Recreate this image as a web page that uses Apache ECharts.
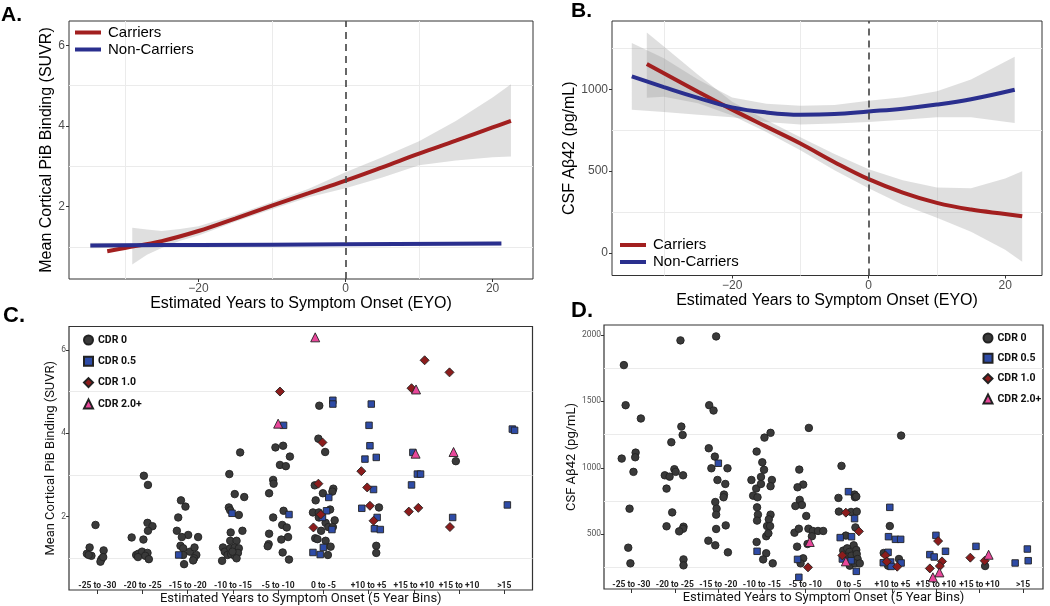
<!DOCTYPE html>
<html><head><meta charset="utf-8">
<script src="https://cdn.jsdelivr.net/npm/echarts@6/dist/echarts.min.js"></script>
<style>html,body{margin:0;padding:0;background:#fff}#c{width:1050px;height:606px}</style>
</head><body><div id="c"></div>
<script>
// ---------- Panel A: PiB vs EYO ----------
const aCarriers = [[-32.4,0.89],[-30,0.97],[-25,1.14],[-20,1.39],[-15,1.70],[-10,2.02],[-5,2.33],[0,2.64],[5,2.97],[10,3.31],[15,3.63],[20,3.96],[22.5,4.12]];
const aCarriersBand = [[-29,0.56,1.47],[-27,0.80,1.43],[-25,0.97,1.39],[-22.5,1.15,1.44],[-20,1.28,1.51],[-15,1.62,1.79],[-10,1.93,2.11],[-5,2.23,2.44],[0,2.45,2.85],[5,2.72,3.22],[10,3.02,3.62],[15,3.14,4.12],[20,3.22,4.70],[22.5,3.24,5.03]];
const aNonCarriers = [[-34.7,1.03],[-20,1.045],[0,1.06],[21.2,1.08]];
const aNonBand = [[-34.7,0.96,1.10],[-20,1.01,1.08],[0,1.04,1.09],[10,1.04,1.11],[21.2,1.03,1.13]];
// ---------- Panel B: CSF Ab42 vs EYO ----------
const bCarriers = [[-32.5,1155],[-25,985],[-20,876],[-15,772],[-10,669],[-5,555],[0,451],[5,369],[10,306],[15,265],[20,238],[22.5,224]];
const bCarriersBand = [[-32.5,948,1348],[-30,955,1262],[-25,915,1090],[-20,840,925],[-15,740,812],[-10,628,708],[-5,505,605],[0,395,512],[5,295,445],[10,215,400],[15,130,395],[20,20,455],[22.5,-54,499]];
const bNonCarriers = [[-34.7,1079],[-30,1014],[-25,948],[-20,890],[-15,859],[-10,845],[-5,849],[0,865],[5,882],[10,907],[15,940],[21.4,998]];
const bNonBand = [[-34.7,876,1284],[-30,862,1190],[-25,845,1060],[-20,830,950],[-15,800,912],[-10,785,900],[-5,792,905],[0,800,930],[5,815,952],[10,830,988],[15,830,1060],[21.4,795,1200]];
const eyoLabels = [-20,0,20];
const eyoGrid = [-30,-10,10];
const aYLabels = [2,4,6];
const aYGrid = [1,3,5];
const bYLabels = [0,500,1000];
const bYGrid = [250,750,1250];

// ---------- Panels C & D: 5-year bins ----------
const bins = ["-25 to -30","-20 to -25","-15 to -20","-10 to -15","-5 to -10","0 to -5","+10 to +5","+15 to +10","+15 to +10",">15"];
const cYLabels = [2,4,6];
const cYGrid = [1,3,5];
const dYLabels = [500,1000,1500,2000];
const dYGrid = [250,750,1250,1750];

const cCdr0 = [[0.96,1.80],[0.83,1.26],[0.77,1.11],[0.87,1.06],[0.81,1.08],[1.14,1.19],[1.09,0.98],[1.07,0.92],[1.13,1.03],
 [2.03,2.98],[2.12,2.76],[2.11,1.85],[2.22,1.77],[2.12,1.66],[1.76,1.50],[2.02,1.45],[1.86,1.08],[1.91,1.11],[1.99,1.16],[2.11,1.13],[2.06,1.06],[2.14,0.98],[1.90,1.03],
 [2.85,2.39],[2.95,2.24],[2.79,1.98],[2.76,1.66],[3.01,1.56],[2.87,1.51],[3.23,1.51],[2.84,1.30],[2.90,1.24],[3.05,1.16],[3.15,1.26],[2.90,1.08],[2.92,0.86],[3.19,1.08],[3.14,1.00],[3.12,0.95],
 [4.16,3.54],[3.92,3.02],[4.04,2.54],[4.25,2.47],[3.91,2.22],[3.94,2.15],[4.13,2.04],[4.21,1.66],[3.95,1.62],[3.78,1.26],[3.82,1.16],[3.94,1.42],[4.08,1.42],[3.94,1.24],[4.04,1.26],[4.13,1.24],[3.88,1.08],[3.96,1.10],[4.04,1.06],[4.11,1.13],[3.99,1.16],[3.76,0.94],[4.08,1.00],
 [4.94,3.66],[5.11,3.70],[5.26,3.44],[5.04,3.24],[5.17,3.21],[4.89,2.88],[4.90,2.79],[4.80,2.56],[5.12,2.14],[4.89,1.98],[5.09,1.80],[5.19,1.74],[4.80,1.59],[5.22,1.51],[5.07,1.45],[4.79,1.34],[4.77,1.29],[5.10,1.14],[5.24,0.97],
 [5.91,4.66],[5.89,3.87],[6.04,3.55],[5.81,2.75],[5.99,2.56],[6.22,2.67],[6.20,2.60],[5.83,2.39],[6.15,2.17],[5.77,2.10],[5.90,2.10],[5.90,1.98],[6.25,1.91],[6.05,1.85],[6.11,1.75],[6.21,1.75],[5.95,1.66],[5.82,1.48],[5.87,1.46],[6.05,1.42],[6.16,1.28],[6.10,1.08],
 [7.23,2.22],[7.17,1.30],[7.17,1.13],[8.93,3.33]];
const cCdr05 = [[2.80,1.08],[3.98,2.08],[5.12,4.19],[5.24,2.05],[6.21,4.79],[6.21,4.70],[6.12,2.46],[6.07,2.14],[5.98,1.98],[6.19,1.69],[6.00,1.26],[5.77,1.14],[5.93,1.09],
 [7.06,4.70],[7.01,4.19],[7.03,3.70],[6.92,3.38],[7.17,3.42],[7.11,2.65],[6.85,2.20],[7.19,1.98],[7.13,1.71],[7.26,1.69],
 [7.98,3.54],[8.08,3.02],[8.15,3.02],[7.95,2.76],[8.86,1.98],[10.18,4.10],[10.23,4.07],[10.07,2.28]];
const cCdr1 = [[5.04,5.00],[5.98,3.78],[5.89,2.79],[5.94,2.05],[5.78,1.74],[6.84,3.09],[6.97,2.70],[7.03,2.26],[7.11,1.90],[8.24,5.75],[7.95,5.08],[8.10,2.21],[7.89,2.12],[8.79,5.46],[8.80,1.75]];
const cCdr2 = [[5.00,4.23],[5.82,6.30],[8.05,5.05],[8.04,3.51],[8.88,3.55]];

const dCdr0 = [[0.83,1773],[0.87,1471],[1.22,1371],[1.10,1114],[1.09,1079],[0.78,1069],[1.05,969],[0.96,692],[0.93,398],[0.98,280],
 [2.13,1959],[2.15,1310],[2.18,1247],[1.92,1192],[1.99,989],[2.02,969],[1.77,943],[1.88,933],[2.19,943],[1.81,843],[1.94,664],[1.81,559],[2.20,556],[2.19,541],[2.10,521],[2.20,310],[2.20,265],
 [2.95,1989],[2.79,1471],[2.89,1431],[2.78,1147],[2.92,1084],[2.84,996],[3.21,996],[2.98,908],[3.16,878],[3.13,798],[3.12,778],[2.93,742],[2.96,692],[2.95,647],[3.17,566],[2.95,539],[2.77,451],[2.93,416],[3.22,363],
 [3.88,1122],[4.20,1263],[4.06,1227],[4.01,1041],[4.05,985],[3.76,908],[3.98,931],[4.23,908],[3.87,843],[3.98,878],[3.80,790],[3.90,778],[4.20,861],[3.89,702],[3.91,647],[3.89,602],[4.20,647],[4.16,612],[4.12,561],[4.19,561],[4.10,484],[4.15,506],[3.88,441],[4.10,356],[4.03,310],[4.25,280],
 [5.08,1300],[4.86,986],[4.95,873],[4.82,853],[4.87,758],[4.92,720],[4.77,712],[5.02,637],[4.75,511],[4.85,541],[5.07,541],[5.17,524],[5.29,524],[5.41,524],[5.15,484],[5.05,426],[4.81,406],[4.95,318],[4.89,280],
 [5.83,1014],[5.76,773],[6.13,798],[6.14,778],[6.17,783],[5.77,670],[6.05,667],[6.18,670],[6.15,551],[5.93,489],[6.11,416],[5.87,376],[5.96,393],[6.01,366],[6.17,381],[5.96,330],[6.06,338],[6.18,350],[6.20,313],[6.02,263],[6.14,280],[6.25,280],
 [7.20,1242],[6.94,561],[6.80,358],[6.90,263],[7.15,313],[9.13,260]];
const dCdr05 = [[3.00,1034],[3.89,371],[4.82,310],[4.85,175],[5.99,820],[6.13,617],[5.80,474],[6.06,481],[5.85,313],[6.05,300],[6.17,220],
 [6.94,702],[6.91,481],[7.07,461],[7.19,461],[6.90,363],[6.79,285],[6.96,290],[6.97,257],[7.20,283],
 [8.00,491],[8.22,371],[7.86,346],[7.96,328],[8.92,408],[10.10,388],[10.12,300],[9.82,283]];
const dCdr1 = [[5.06,250],[5.93,662],[6.23,521],[5.85,340],[6.84,340],[6.87,293],[7.11,255],[8.05,448],[8.14,295],[8.09,260],[7.86,242],[8.79,323],[9.12,300]];
const dCdr2 = [[5.10,441],[5.93,295],[8.08,212],[7.93,175],[9.21,345]];

// ---------- styling ----------
const SANS = "'Liberation Sans', Arial, sans-serif";
const NARROW = "Roboto, 'Liberation Sans', sans-serif";
const RED = '#A21F1F', BLUE = '#2A2F8E';
const GRIDC = '#EBEBEB';
const minus = v => String(v).replace('-', '\u2212');
const plain = v => String(v);

function bandSeries(band, xi, yi) {
  return {
    type: 'custom', xAxisIndex: xi, yAxisIndex: yi, silent: true, z: 1,
    data: band, encode: {x: 0, y: [1, 2]},
    renderItem: function (params, api) {
      if (params.dataIndex !== 0) return null;
      const up = band.map(r => api.coord([r[0], r[2]]));
      const lo = band.map(r => api.coord([r[0], r[1]])).reverse();
      return {type: 'polygon', shape: {points: up.concat(lo)},
              style: {fill: 'rgba(150,150,150,0.3)'}};
    }
  };
}
function lineSeries(name, data, color, xi, yi, withVLine) {
  const s = {type: 'line', name, data, xAxisIndex: xi, yAxisIndex: yi, smooth: 0.4,
    symbol: 'none', silent: true, z: 3, lineStyle: {color, width: 4}, itemStyle: {color}};
  if (withVLine) s.markLine = {silent: true, symbol: ['none', 'none'], label: {show: false},
    lineStyle: {color: '#4d4d4d', type: [7, 5], width: 1.7}, data: [{xAxis: 0}]};
  return s;
}
const SYM = {
  'CDR 0': {symbol: 'circle', size: 7.5, color: '#3a3a3a'},
  'CDR 0.5': {symbol: 'rect', size: 6.5, color: '#2E4BA6'},
  'CDR 1.0': {symbol: 'diamond', size: 9, color: '#8C1C1C'},
  'CDR 2.0+': {symbol: 'triangle', size: 9, color: '#E8479A'}
};
function scat(name, data, xi, yi) {
  const s = SYM[name];
  return {type: 'scatter', name, data, xAxisIndex: xi, yAxisIndex: yi, symbol: s.symbol,
    symbolSize: s.size, silent: true, z: 3,
    itemStyle: {color: s.color, borderColor: '#222', borderWidth: 0.9, opacity: 1}};
}

function valAxisMain(gi, min, max, labels, opts) {
  return Object.assign({
    type: 'value', gridIndex: gi, min, max,
    axisLine: {show: false, onZero: false},
    axisTick: {show: true, length: 3, customValues: labels, lineStyle: {color: '#333'}},
    axisLabel: {customValues: labels, color: '#4d4d4d', fontSize: 12, margin: 4, fontFamily: SANS, formatter: plain,
                showMinLabel: true, showMaxLabel: true},
    splitLine: {show: false}
  }, opts);
}
function valAxisGrid(gi, min, max, lines) {
  return {type: 'value', gridIndex: gi, min, max,
    axisLine: {show: false, onZero: false}, axisLabel: {show: false},
    axisTick: {show: false, customValues: lines},
    splitLine: {show: true, lineStyle: {color: GRIDC, width: 1}}};
}
function binAxis(gi, min, max) {
  return {type: 'value', gridIndex: gi, min, max, axisLine: {show: false, onZero: false},
    axisTick: {show: true, length: 4, customValues: binIdx, lineStyle: {color: '#333'}},
    axisLabel: {customValues: binIdx, inside: true, margin: 0, fontSize: 8.5, fontWeight: 'bold', color: '#222', fontFamily: NARROW,
      showMinLabel: true, showMaxLabel: true, hideOverlap: false,
      formatter: v => bins[Math.round(v) - 1]},
    splitLine: {show: false},
    name: 'Estimated Years to Symptom Onset (5 Year Bins)', nameLocation: 'middle', nameGap: 2,
    nameTextStyle: {fontSize: 13, color: '#111', fontFamily: NARROW}};
}

const binIdx = bins.map((b, i) => i + 1);

const option = {
  animation: false,
  backgroundColor: '#fff',
  textStyle: {fontFamily: SANS},
  title: [
    {text: 'A.', left: 1, top: 5, padding: 0, textStyle: {fontSize: 21, fontWeight: 'bold', color: '#000', fontFamily: SANS}},
    {text: 'B.', left: 571, top: 1, padding: 0, textStyle: {fontSize: 21, fontWeight: 'bold', color: '#000', fontFamily: SANS}},
    {text: 'C.', left: 3, top: 305, padding: 0, textStyle: {fontSize: 22, fontWeight: 'bold', color: '#000', fontFamily: SANS}},
    {text: 'D.', left: 571, top: 300, padding: 0, textStyle: {fontSize: 22, fontWeight: 'bold', color: '#000', fontFamily: SANS}}
  ],
  grid: [
    {left: 69, top: 21, width: 464, height: 258, show: true, borderColor: '#333', borderWidth: 1, backgroundColor: 'transparent'},
    {left: 612, top: 21, width: 430, height: 254.5, show: true, borderColor: '#333', borderWidth: 1, backgroundColor: 'transparent'},
    {left: 69, top: 326.5, width: 463.5, height: 263.5, show: true, borderColor: '#333', borderWidth: 1.2, backgroundColor: 'transparent'},
    {left: 604, top: 325, width: 439, height: 264, show: true, borderColor: '#333', borderWidth: 1.2, backgroundColor: 'transparent'}
  ],
  legend: [
    {data: ['Carriers', 'Non-Carriers'], left: 75, top: 25, orient: 'vertical', padding: 0, itemGap: 2,
     icon: 'rect', itemWidth: 26, itemHeight: 4, selectedMode: false,
     textStyle: {fontSize: 15, lineHeight: 15, color: '#000', fontFamily: SANS, padding: [0, 0, 0, 2]}},
    {data: ['Carriers', 'Non-Carriers'], left: 620, top: 237.5, orient: 'vertical', padding: 0, itemGap: 2,
     icon: 'rect', itemWidth: 26, itemHeight: 4, selectedMode: false,
     textStyle: {fontSize: 15, lineHeight: 15, color: '#000', fontFamily: SANS, padding: [0, 0, 0, 2]}},
    {data: ['CDR 0', 'CDR 0.5', 'CDR 1.0', 'CDR 2.0+'], left: 83, top: 334, orient: 'vertical', padding: 0, itemGap: 9.3,
     itemWidth: 9, itemHeight: 9, selectedMode: false,
     textStyle: {fontSize: 10.5, lineHeight: 12, fontWeight: 'bold', color: '#111', fontFamily: NARROW}},
    {data: ['CDR 0', 'CDR 0.5', 'CDR 1.0', 'CDR 2.0+'], left: 982.5, top: 332, orient: 'vertical', padding: 0, itemGap: 8.3,
     itemWidth: 9, itemHeight: 9, selectedMode: false,
     textStyle: {fontSize: 10.5, lineHeight: 12, fontWeight: 'bold', color: '#111', fontFamily: NARROW}}
  ],
  xAxis: [
    valAxisMain(0, -37.6, 25.5, eyoLabels, {axisLabel: {customValues: eyoLabels, color: '#4d4d4d', fontSize: 12, margin: 4, formatter: minus, showMinLabel: true, showMaxLabel: true},
      name: 'Estimated Years to Symptom Onset (EYO)', nameLocation: 'middle', nameGap: 14,
      nameTextStyle: {fontSize: 16, color: '#000', fontFamily: SANS}}),
    valAxisGrid(0, -37.6, 25.5, eyoGrid),
    valAxisMain(1, -37.6, 25.4, eyoLabels, {axisLabel: {customValues: eyoLabels, color: '#4d4d4d', fontSize: 12, margin: 4, formatter: minus, showMinLabel: true, showMaxLabel: true},
      name: 'Estimated Years to Symptom Onset (EYO)', nameLocation: 'middle', nameGap: 14,
      nameTextStyle: {fontSize: 16, color: '#000', fontFamily: SANS}}),
    valAxisGrid(1, -37.6, 25.4, eyoGrid),
    binAxis(2, 0.374, 10.626),
    binAxis(3, 0.373, 10.46)
  ],
  yAxis: [
    valAxisMain(0, 0.2, 6.6, aYLabels, {name: 'Mean Cortical PiB Binding (SUVR)', nameLocation: 'middle', nameGap: 11,
      nameTextStyle: {fontSize: 16, color: '#000', fontFamily: SANS}}),
    valAxisGrid(0, 0.2, 6.6, aYGrid),
    valAxisMain(1, -138, 1418, bYLabels, {name: 'CSF A\u03b242 (pg/mL)', nameLocation: 'middle', nameGap: 34,
      nameTextStyle: {fontSize: 16, color: '#000', fontFamily: SANS}}),
    valAxisGrid(1, -138, 1418, bYGrid),
    valAxisMain(2, 0.24, 6.56, cYLabels, {axisLabel: {customValues: cYLabels, color: '#555', fontSize: 8.5, margin: 3, fontFamily: NARROW, formatter: plain, showMinLabel: true, showMaxLabel: true},
      name: 'Mean Cortical PiB Binding (SUVR)', nameLocation: 'middle', nameGap: 8,
      nameTextStyle: {fontSize: 13, color: '#111', fontFamily: NARROW}}),
    valAxisGrid(2, 0.24, 6.56, cYGrid),
    valAxisMain(3, 87, 2075, dYLabels, {axisLabel: {customValues: dYLabels, color: '#555', fontSize: 8.5, margin: 3, fontFamily: NARROW, formatter: plain, showMinLabel: true, showMaxLabel: true},
      name: 'CSF A\u03b242 (pg/mL)', nameLocation: 'middle', nameGap: 26,
      nameTextStyle: {fontSize: 13, color: '#111', fontFamily: NARROW}}),
    valAxisGrid(3, 87, 2075, dYGrid)
  ],
  series: [
    bandSeries(aCarriersBand, 0, 0),
    bandSeries(aNonBand, 0, 0),
    lineSeries('Carriers', aCarriers, RED, 0, 0, true),
    lineSeries('Non-Carriers', aNonCarriers, BLUE, 0, 0, false),
    bandSeries(bCarriersBand, 2, 2),
    bandSeries(bNonBand, 2, 2),
    lineSeries('Carriers', bCarriers, RED, 2, 2, true),
    lineSeries('Non-Carriers', bNonCarriers, BLUE, 2, 2, false),
    scat('CDR 0', cCdr0, 4, 4),
    scat('CDR 0.5', cCdr05, 4, 4),
    scat('CDR 1.0', cCdr1, 4, 4),
    scat('CDR 2.0+', cCdr2, 4, 4),
    scat('CDR 0', dCdr0, 5, 6),
    scat('CDR 0.5', dCdr05, 5, 6),
    scat('CDR 1.0', dCdr1, 5, 6),
    scat('CDR 2.0+', dCdr2, 5, 6)
  ]
};
const chart = echarts.init(document.getElementById('c'), null, {renderer: 'canvas'});
chart.setOption(option);
</script></body></html>
